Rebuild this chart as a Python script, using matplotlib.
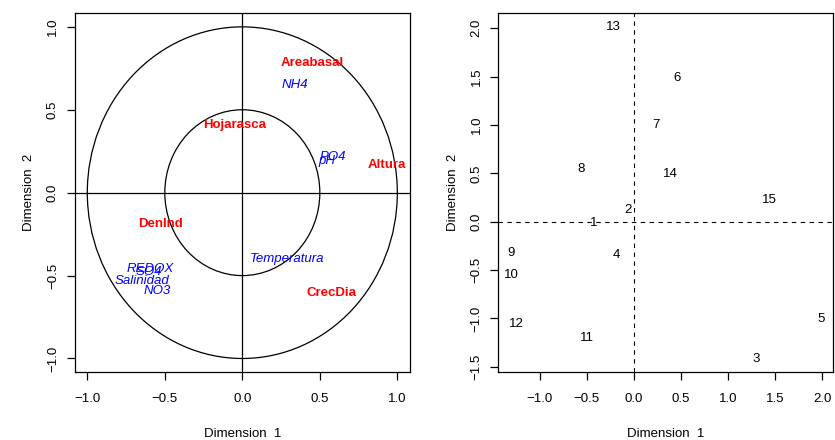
import numpy as np
import matplotlib
matplotlib.use('Agg')
import matplotlib.pyplot as plt
from matplotlib.patches import Circle
from matplotlib.ticker import FuncFormatter

plt.rcParams['font.family'] = ['Liberation Sans', 'DejaVu Sans']
plt.rcParams['font.size'] = 9.5

# variable loadings (correlation circle)
resp_names = ['Areabasal', 'Hojarasca', 'Altura', 'DenInd', 'CrecDia']
resp_x = [0.449, -0.052, 0.932, -0.528, 0.573]
resp_y = [0.785, 0.409, 0.164, -0.191, -0.607]

env_names = ['NH4', 'PO4', 'pH', 'Temperatura', 'REDOX', 'SO4', 'Salinidad', 'NO3']
env_x = [0.337, 0.584, 0.545, 0.288, -0.597, -0.603, -0.650, -0.549]
env_y = [0.649, 0.214, 0.194, -0.401, -0.461, -0.477, -0.532, -0.594]

# site scores
site_ids = ['1', '2', '3', '4', '5', '6', '7', '8', '9', '10', '11', '12', '13', '14', '15']
site_x = [-0.429, -0.064, 1.298, -0.188, 1.988, 0.463, 0.237, -0.556, -1.306, -1.303,
          -0.499, -1.249, -0.216, 0.385, 1.440]
site_y = [-0.018, 0.117, -1.417, -0.349, -1.011, 1.483, 0.996, 0.548, -0.328, -0.556,
          -1.207, -1.063, 2.017, 0.489, 0.220]


def fmt(v, pos):
    return ('%.1f' % v).replace('-', '\u2212')


def style_axes(ax):
    for s in ax.spines.values():
        s.set_linewidth(0.9)
    ax.tick_params(direction='out', length=5.8, width=0.9)
    ax.tick_params(axis='x', pad=9.5)
    ax.tick_params(axis='y', pad=5.5, labelrotation=90)
    for lab in ax.get_yticklabels():
        lab.set_va('center')
    ax.xaxis.set_major_formatter(FuncFormatter(fmt))
    ax.yaxis.set_major_formatter(FuncFormatter(fmt))
    ax.set_xlabel('Dimension  1')
    ax.set_ylabel('Dimension  2')
    ax.xaxis.set_label_coords(0.5, -0.156)
    ax.yaxis.set_label_coords(-0.118, 0.5)


fig = plt.figure(figsize=(8.35, 4.4), dpi=100)
ax1 = fig.add_axes([0.0894, 0.1545, 0.4016, 0.8152])
ax2 = fig.add_axes([0.5968, 0.1545, 0.4012, 0.8152])

# left: correlation circle
lim = 1.04 * 1.04
ax1.set_xlim(-lim, lim)
ax1.set_ylim(-lim, lim)
for r in (1.0, 0.5):
    ax1.add_patch(Circle((0, 0), r, fill=False, ec='black', lw=0.9))
ax1.axhline(0, color='black', lw=0.9)
ax1.axvline(0, color='black', lw=0.9)
for name, x, y in zip(resp_names, resp_x, resp_y):
    ax1.text(x, y, name, color='red', fontweight='bold', ha='center', va='center')
for name, x, y in zip(env_names, env_x, env_y):
    ax1.text(x, y, name, color='blue', fontstyle='italic', ha='center', va='center')
ax1.set_xticks(np.arange(-1.0, 1.01, 0.5))
ax1.set_yticks(np.arange(-1.0, 1.01, 0.5))
style_axes(ax1)

# right: site scores
sx = np.array(site_x)
sy = np.array(site_y)
px = 0.04 * (sx.max() - sx.min())
py = 0.04 * (sy.max() - sy.min())
ax2.set_xlim(sx.min() - px, sx.max() + px)
ax2.set_ylim(sy.min() - py, sy.max() + py)
ax2.axhline(0, color='black', lw=0.8, dashes=(4, 4))
ax2.axvline(0, color='black', lw=0.8, dashes=(4, 4))
for name, x, y in zip(site_ids, site_x, site_y):
    ax2.text(x, y, name, color='black', ha='center', va='center')
ax2.set_xticks(np.arange(-1.0, 2.01, 0.5))
ax2.set_yticks(np.arange(-1.5, 2.01, 0.5))
style_axes(ax2)

fig.savefig('out.png', dpi=100)
